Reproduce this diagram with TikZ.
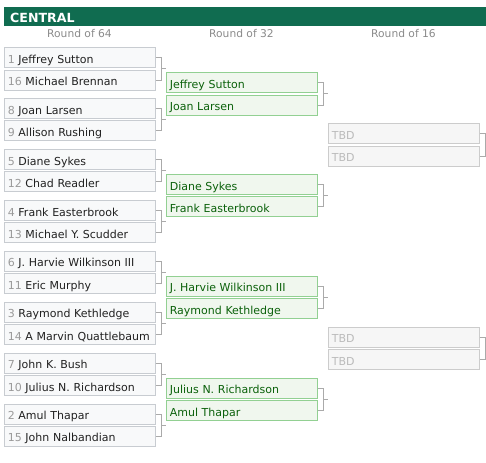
\documentclass[tikz,border=0pt]{standalone}
\usepackage{fontspec}
\setmainfont{DejaVu Sans}
\usetikzlibrary{calc}

\definecolor{headgreen}{HTML}{106C50}
\definecolor{boxfill}{HTML}{F8F9FA}
\definecolor{boxline}{HTML}{C8CCD1}
\definecolor{winfill}{HTML}{F0F7EE}
\definecolor{winline}{HTML}{92D092}
\definecolor{wintext}{HTML}{0B610B}
\definecolor{tbdfill}{HTML}{F6F6F6}
\definecolor{tbdline}{HTML}{CCCCCC}
\definecolor{tbdtext}{HTML}{BBBBBB}
\definecolor{seedgray}{HTML}{9A9A9A}
\definecolor{roundgray}{HTML}{8A8A8A}
\definecolor{jointgray}{HTML}{AAAAAA}

\begin{document}
\begin{tikzpicture}[%
    x=1pt, y=-1pt,
    every node/.style={font=\fontsize{11}{13}\selectfont},
    slot/.style={
        draw=boxline,
        fill=boxfill,
        line width=1,
        rectangle,
        anchor = north west,
        minimum width = 150.4,
        minimum height = 20,
        inner xsep = 3,
        inner ysep = 0,
        text width = 144.4,
        align = left,
        text height = 11.5,
        text depth = 0.5,
        text = black!87,
        },
    winslot/.style={
        slot,
        draw=winline,
        fill=winfill,
        text=wintext,
        },
    tbdslot/.style={
        slot,
        draw=tbdline,
        fill=tbdfill,
        text=tbdtext,
        },
    roundlabel/.style={
        anchor = base,
        text = roundgray,
        font = \fontsize{10.7}{13}\selectfont,
        },
    headbar/.style={
        fill=headgreen,
        anchor = north west,
        minimum width = 482,
        minimum height = 18.4,
        inner xsep = 6,
        inner ysep = 0,
        text width = 470,
        align = left,
        text height = 13,
        text depth = 0.6,
        text = white,
        font = \fontsize{12.6}{14}\selectfont\bfseries,
        },
    joint/.style={
        draw=jointgray,
        line width=1,
        },
]

\useasboundingbox (0,0) rectangle (486,462);

\node[headbar] (central) at (4,7.3) {CENTRAL};

\node[roundlabel] (lab64) at (79.5,37.3) {Round of 64};
\node[roundlabel] (lab32) at (241.5,37.3) {Round of 32};
\node[roundlabel] (lab16) at (403.5,37.3) {Round of 16};

\begin{scope}
    \foreach \seed/\name [count=\n from 1] in {1/Jeffrey Sutton, 16/Michael Brennan,
        8/Joan Larsen, 9/Allison Rushing, 5/Diane Sykes, 12/Chad Readler,
        4/Frank Easterbrook, 13/Michael Y. Scudder, 6/J. Harvie Wilkinson III,
        11/Eric Murphy, 3/Raymond Kethledge, 14/A Marvin Quattlebaum,
        7/John K. Bush, 10/Julius N. Richardson, 2/Amul Thapar, 15/John Nalbandian}{
        \pgfmathsetmacro\ytop{47.3+50.9*floor((\n-1)/2)+22.3*mod(\n-1,2)}
        \node[slot] (r64-\n) at (4.3,\ytop) {{\color{seedgray}\seed} \name};
    }
\end{scope}

\begin{scope}
    \foreach \name [count=\n from 1] in {Jeffrey Sutton, Joan Larsen, Diane Sykes,
        Frank Easterbrook, J. Harvie Wilkinson III, Raymond Kethledge,
        Julius N. Richardson, Amul Thapar}{
        \pgfmathsetmacro\ytop{72.3+101.8*floor((\n-1)/2)+22.3*mod(\n-1,2)}
        \node[winslot] (r32-\n) at (166.3,\ytop) {\name};
    }
\end{scope}

\begin{scope}
    \foreach \n in {1,...,4}{
        \pgfmathsetmacro\ytop{123.3+203.6*floor((\n-1)/2)+22.3*mod(\n-1,2)}
        \node[tbdslot] (r16-\n) at (328.3,\ytop) {TBD};
    }
\end{scope}

\coordinate (edge) at (486,0);

\foreach \k in {1,...,8}{
    \pgfmathtruncatemacro\a{2*\k-1}
    \pgfmathtruncatemacro\b{2*\k}
    \draw[joint] (r64-\a.east) -- ++(5.5,0) |- (r64-\b.east);
    \path ($(r64-\a.east)!.5!(r64-\b.east)$) ++(5.5,0) coordinate (m64-\k);
    \draw[joint] (m64-\k) -- (m64-\k -| r32-1.west);
}

\foreach \k in {1,...,4}{
    \pgfmathtruncatemacro\a{2*\k-1}
    \pgfmathtruncatemacro\b{2*\k}
    \draw[joint] (r32-\a.east) -- ++(5.5,0) |- (r32-\b.east);
    \path ($(r32-\a.east)!.5!(r32-\b.east)$) ++(5.5,0) coordinate (m32-\k);
    \draw[joint] (m32-\k) -- (m32-\k -| r16-1.west);
}

\foreach \k in {1,2}{
    \pgfmathtruncatemacro\a{2*\k-1}
    \pgfmathtruncatemacro\b{2*\k}
    \draw[joint] (r16-\a.east) -- ++(5.5,0) |- (r16-\b.east);
    \path ($(r16-\a.east)!.5!(r16-\b.east)$) ++(5.5,0) coordinate (m16-\k);
    \draw[joint] (m16-\k) -- (m16-\k -| edge);
}

\end{tikzpicture}
\end{document}
